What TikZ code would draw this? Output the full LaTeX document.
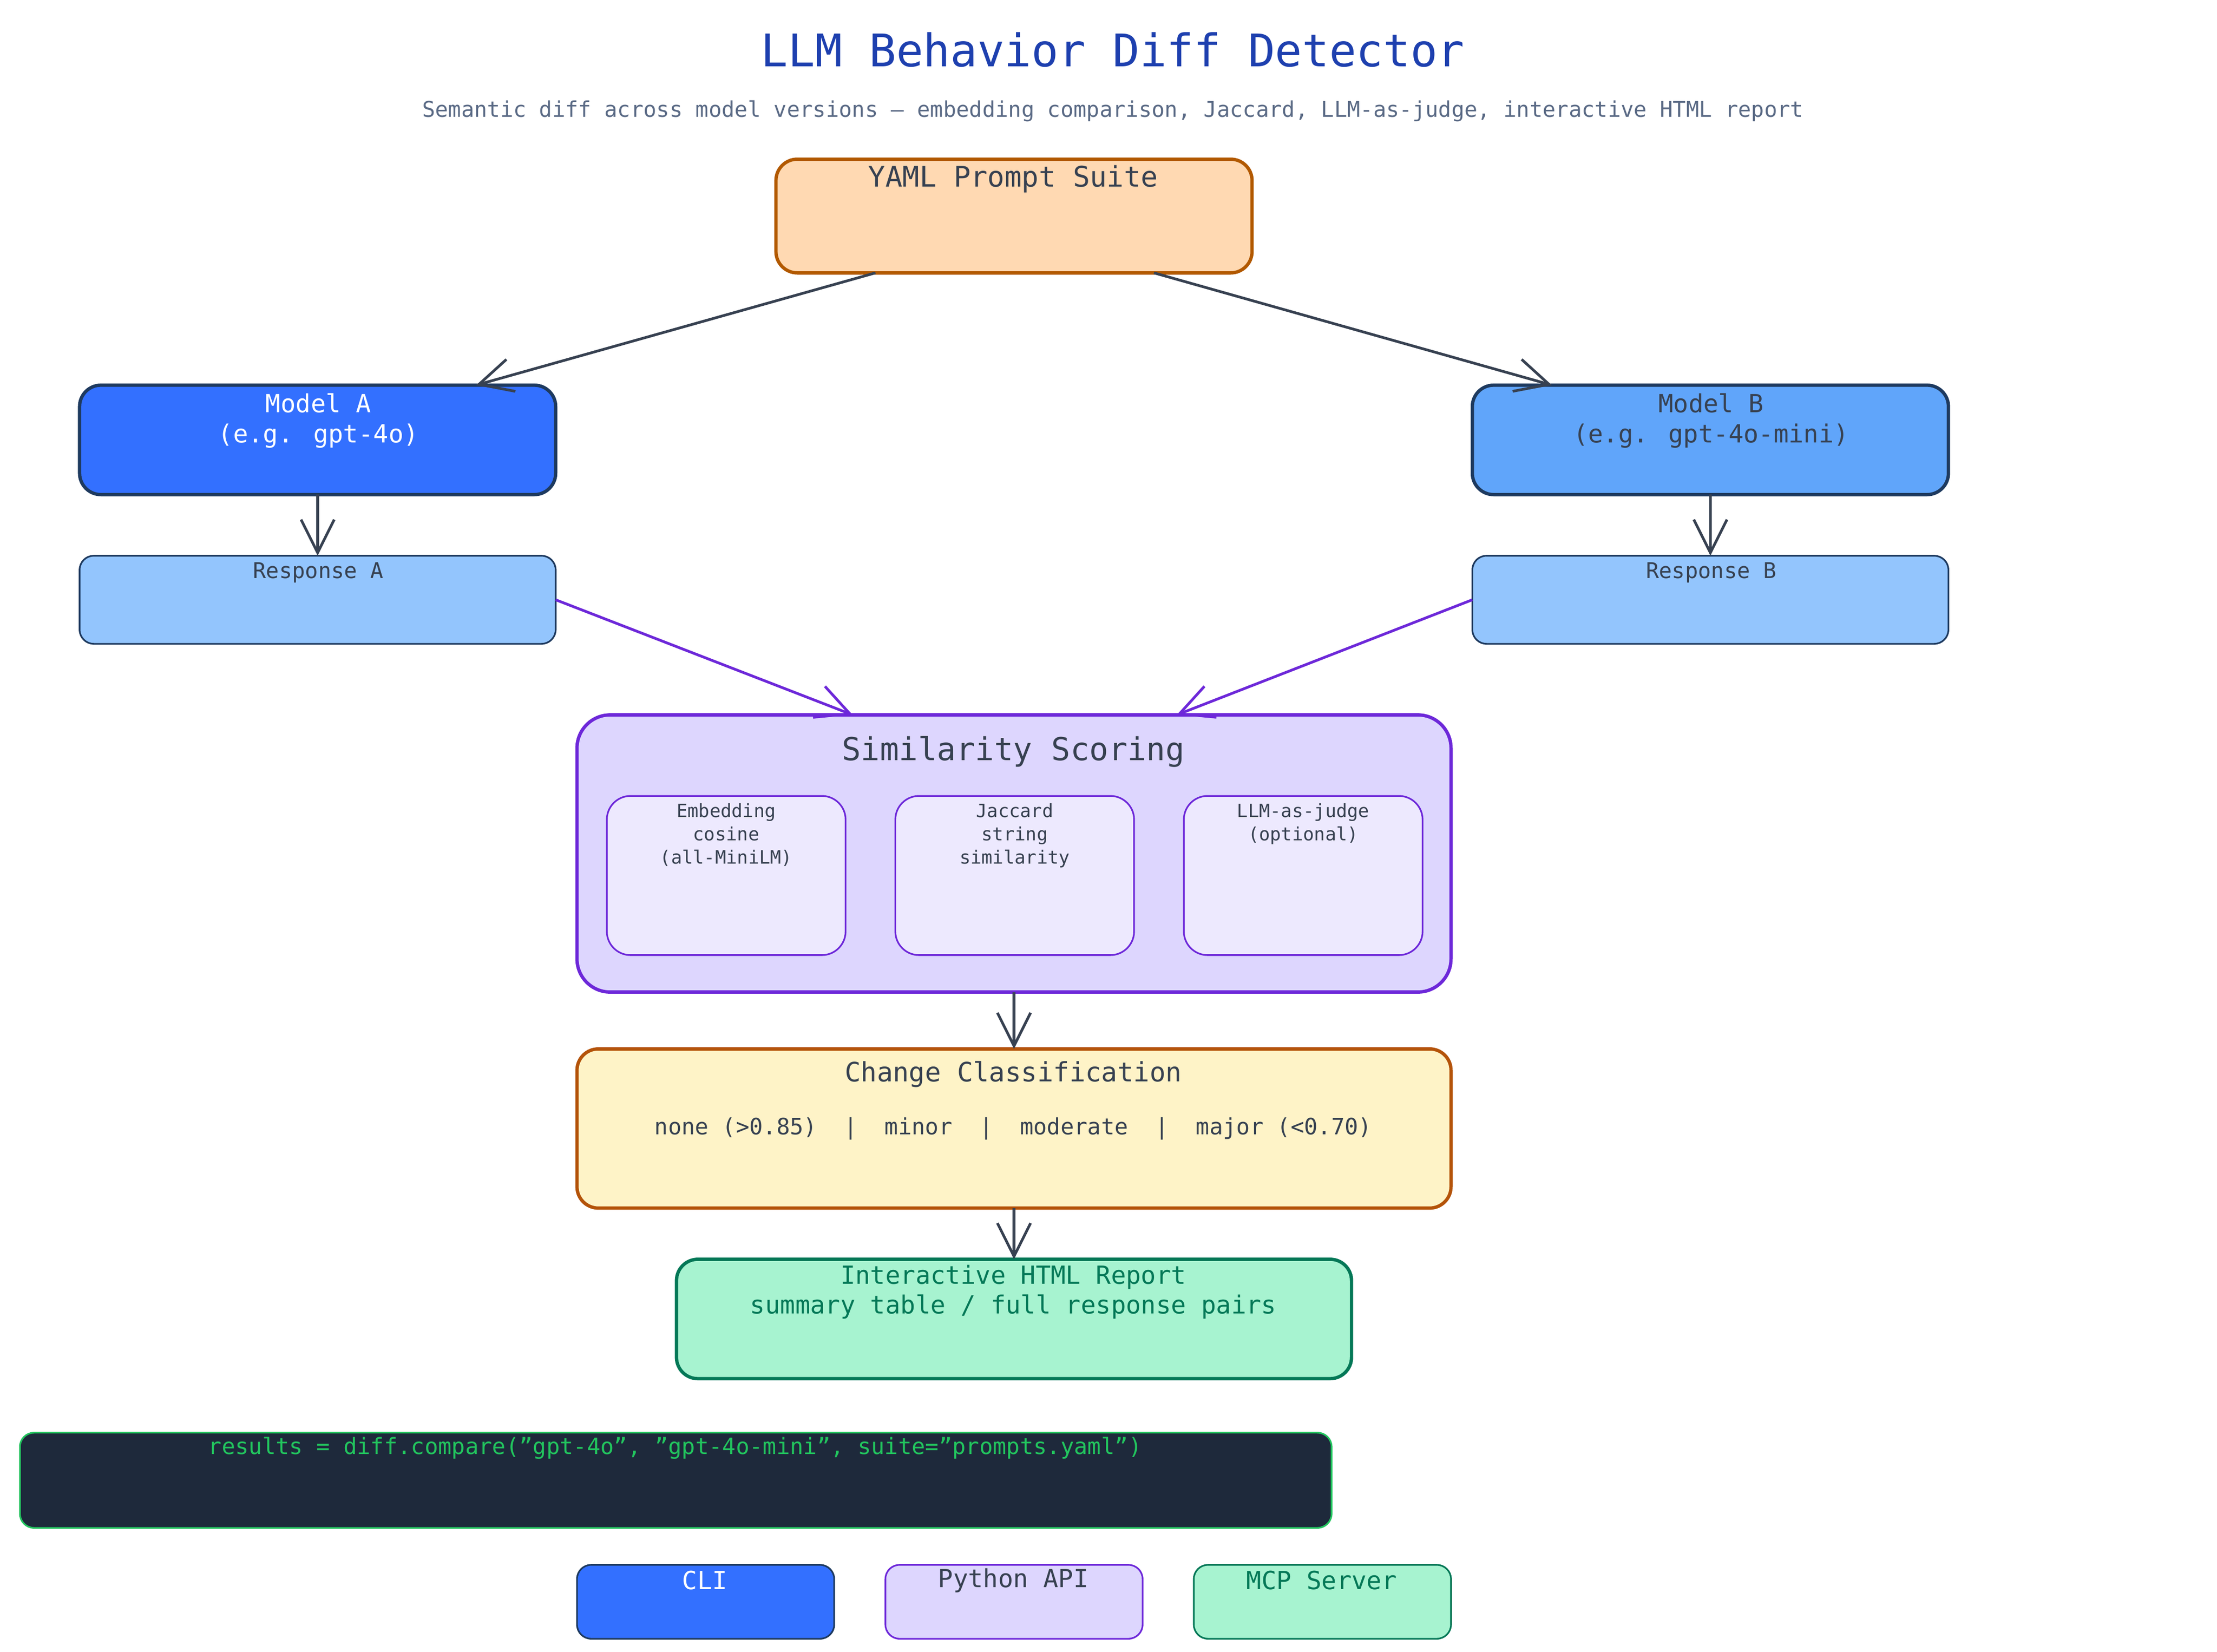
\documentclass[tikz,border=0pt]{standalone}
\usepackage{fontspec}
\setmainfont{DejaVu Sans Mono}
\usetikzlibrary{arrows.meta,calc}
\definecolor{ttl}{HTML}{1E40AF}
\definecolor{sub}{HTML}{5A6A85}
\definecolor{dk}{HTML}{1E3A5F}
\definecolor{txt}{HTML}{374151}
\definecolor{pur}{HTML}{6D28D9}
\definecolor{grn}{HTML}{047857}
\begin{document}
\begin{tikzpicture}[x=0.3mm,y=-0.3mm,
  box/.style={draw,rounded corners=4.5mm,line width=2pt},
  thin/.style={draw,rounded corners=3mm,line width=1pt},
  t/.style={font=\fontsize{15}{18}\selectfont,text=txt,align=center},
  s/.style={font=\fontsize{11}{14}\selectfont,text=txt,align=center},
  arr/.style={draw=txt,line width=1.6pt,-{Straight Barb[length=7mm,width=7mm,line width=1.6pt]}},
  parr/.style={arr,draw=pur}]
\useasboundingbox (0,0) rectangle (1560,1162);
\node[font=\fontsize{27}{32}\selectfont,text=ttl] (title) at (783,35) {LLM Behavior Diff Detector};
\node[font=\fontsize{13}{16}\selectfont,text=sub] (subt) at (783,78) {Semantic diff across model versions -- embedding comparison, Jaccard, LLM-as-judge, interactive HTML report};
% boxes
\path[box,fill=orange!30!white,draw=orange!70!black] (546,112) rectangle (881,192); \node (yaml) at (713.5,152) {};
\node[t,font=\fontsize{17}{20}\selectfont] (yamlt) at (713,126) {YAML Prompt Suite};
\path[box,fill=blue!70!cyan!80!white,draw=dk] (56,271) rectangle (391,348); \node (ma) at (223.5,309.5) {};
\node[t,text=white] (mat) at (224,296) {Model A\\(e.g. gpt-4o)};
\path[box,fill={rgb,255:red,96;green,165;blue,250},draw=dk] (1036,271) rectangle (1371,348); \node (mb) at (1203.5,309.5) {};
\node[t] (mbt) at (1204,296) {Model B\\(e.g. gpt-4o-mini)};
\path[thin,fill={rgb,255:red,147;green,197;blue,253},draw=dk] (56,391) rectangle (391,453); \node (ra) at (223.5,422) {};
\node[t,font=\fontsize{13}{16}\selectfont] (rat) at (224,403) {Response A};
\path[thin,fill={rgb,255:red,147;green,197;blue,253},draw=dk] (1036,391) rectangle (1371,453); \node (rb) at (1203.5,422) {};
\node[t,font=\fontsize{13}{16}\selectfont] (rbt) at (1204,403) {Response B};
\path[box,rounded corners=7mm,fill={rgb,255:red,221;green,214;blue,254},draw=pur] (406,503) rectangle (1021,698); \node (sim) at (713.5,600.5) {};
\node[t,font=\fontsize{19}{22}\selectfont] (simt) at (713,529) {Similarity Scoring};
\foreach \x/\n/\l in {427/e/{Embedding\\cosine\\(all-MiniLM)},630/j/{Jaccard\\string\\similarity},833/l/{LLM-as-judge\\(optional)}}{
  \path[thin,rounded corners=5mm,fill={rgb,255:red,237;green,233;blue,254},draw=pur] (\x,560) rectangle ++(168,112);
  \node[s,anchor=north] (\n) at (\x+84,561) {\l};
}
\path[box,fill={rgb,255:red,254;green,243;blue,199},draw={rgb,255:red,180;green,83;blue,9}] (406,738) rectangle (1021,850); \node (cc) at (713.5,794) {};
\node[t,font=\fontsize{16}{19}\selectfont] (cct) at (713,756) {Change Classification};
\node[t,font=\fontsize{13.5}{16}\selectfont] (ccl) at (713,794) {none (>0.85)\ \ |\ \ minor\ \ |\ \ moderate\ \ |\ \ major (<0.70)};
\path[box,fill={rgb,255:red,167;green,243;blue,208},draw=grn] (476,886) rectangle (951,970); \node (html) at (713.5,928) {};
\node[t,text=grn] (htmlt) at (713,909) {Interactive HTML Report\\summary table / full response pairs};
\path[thin,fill={rgb,255:red,30;green,41;blue,59},draw={rgb,255:red,34;green,197;blue,94}] (14,1008) rectangle (937,1075); \node (code) at (475.5,1041.5) {};
\node[t,font=\fontsize{13.5}{16}\selectfont,text={rgb,255:red,34;green,197;blue,94}] (codet) at (475,1019) {results = diff.compare("gpt-4o", "gpt-4o-mini", suite="prompts.yaml")};
\path[thin,fill=blue!70!cyan!80!white,draw=dk] (406,1101) rectangle (587,1153); \node (cli) at (496.5,1127) {};
\node[t,text=white] (clit) at (496,1112) {CLI};
\path[thin,fill={rgb,255:red,221;green,214;blue,254},draw=pur] (623,1101) rectangle (804,1153); \node (py) at (713.5,1127) {};
\node[t] (pyt) at (713,1112) {Python API};
\path[thin,fill={rgb,255:red,167;green,243;blue,208},draw=grn] (840,1101) rectangle (1021,1153); \node (mcp) at (930.5,1127) {};
\node[t,text=grn] (mcpt) at (930,1112) {MCP Server};
% arrows
\draw[arr] ($(yaml)+(-97.5,40)$) -- ($(ma)+(111.5,-38.5)$);
\draw[arr] ($(yaml)+(98.5,40)$) -- ($(mb)+(-111.5,-38.5)$);
\draw[arr] ($(ma)+(0,38.5)$) -- ($(ra)+(0,-31)$);
\draw[arr] ($(mb)+(0,38.5)$) -- ($(rb)+(0,-31)$);
\draw[parr] ($(ra)+(167.5,0)$) -- ($(sim)+(-113.5,-97.5)$);
\draw[parr] ($(rb)+(-167.5,0)$) -- ($(sim)+(114.5,-97.5)$);
\draw[arr] ($(sim)+(0,97.5)$) -- ($(cc)+(0,-56)$);
\draw[arr] ($(cc)+(0,56)$) -- ($(html)+(0,-42)$);
\end{tikzpicture}
\end{document}
